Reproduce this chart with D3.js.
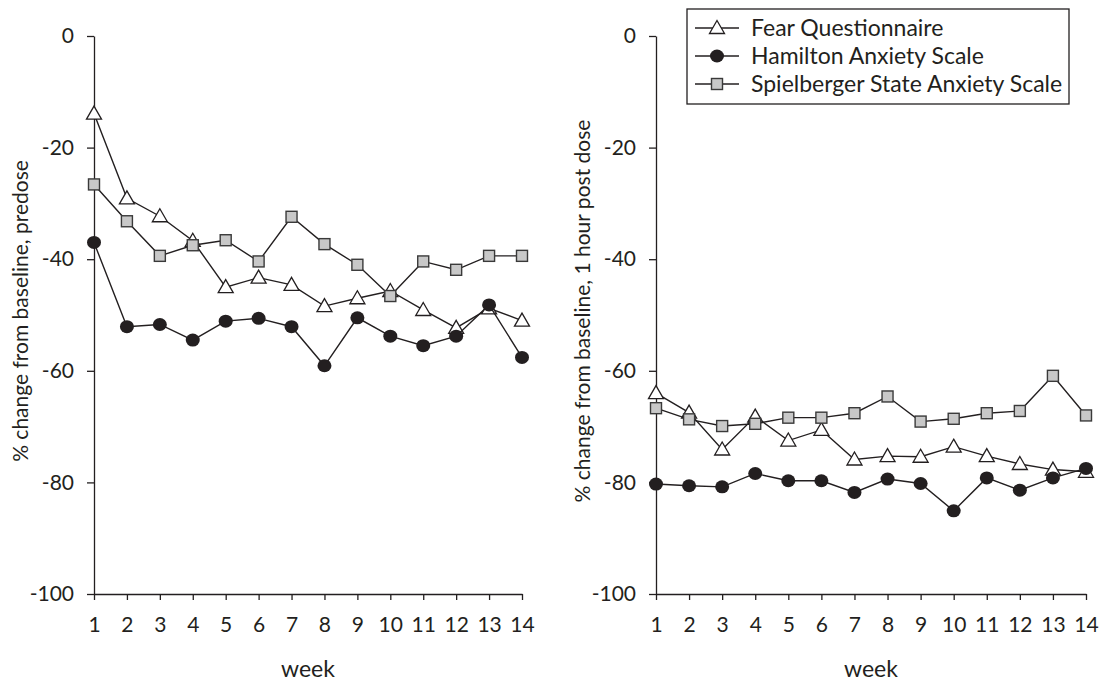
<!DOCTYPE html>
<head>
  <meta charset="utf-8">
  <script src="https://d3js.org/d3.v7.min.js"></script>
  <style>
    body { margin: 0; background: #fff; }
    svg { display: block; font-family: Lato, "Open Sans", sans-serif; }
    .axis path, .axis line { stroke: #231f20; stroke-width: 1.3px; }
    .axis text { font-size: 21px; fill: #231f20; font-family: Lato, "Open Sans", sans-serif; }
    .line { fill: none; stroke: #231f20; stroke-width: 1.4px; }
    .title { font-size: 21px; fill: #231f20; }
    .xtitle { font-size: 23px; fill: #231f20; }
    .legend-text { font-size: 23px; fill: #231f20; }
  </style>
</head>
<body>
  <svg id="chart" width="1112" height="685"></svg>
  <script>
    var weeks = [1, 2, 3, 4, 5, 6, 7, 8, 9, 10, 11, 12, 13, 14];
    var yTicks = [0, -20, -40, -60, -80, -100];

    // predose (left panel)
    var fearPre = [-13.9, -29.1, -32.3, -36.7, -45.0, -43.3, -44.6, -48.4, -47.0, -45.7, -49.1, -52.3, -48.8, -51.0];
    var hamPre = [-37.0, -52.1, -51.7, -54.5, -51.1, -50.6, -52.1, -59.1, -50.5, -53.8, -55.5, -53.8, -48.2, -57.6];
    var spielPre = [-26.6, -33.2, -39.4, -37.5, -36.6, -40.4, -32.4, -37.3, -41.0, -46.6, -40.4, -41.9, -39.4, -39.4];

    // 1 hour post dose (right panel)
    var fearPost = [-64.0, -67.5, -74.1, -68.2, -72.5, -70.6, -75.9, -75.3, -75.4, -73.6, -75.3, -76.7, -77.7, -78.1];
    var hamPost = [-80.3, -80.6, -80.8, -78.4, -79.7, -79.7, -81.8, -79.4, -80.2, -85.1, -79.2, -81.4, -79.2, -77.5];
    var spielPost = [-66.7, -68.7, -69.9, -69.5, -68.4, -68.4, -67.6, -64.6, -69.1, -68.6, -67.6, -67.2, -60.9, -68.0];

    var seriesNames = ["Fear Questionnaire", "Hamilton Anxiety Scale", "Spielberger State Anxiety Scale"];
    var seriesShapes = ["triangle", "circle", "square"];

    var svg = d3.select("#chart");
    var plotTop = 36, plotBottom = 594;

    var panels = [
      { left: 94, right: 522, ylabel: "% change from baseline, predose", tx: 21, series: [fearPre, hamPre, spielPre] },
      { left: 656, right: 1086, ylabel: "% change from baseline, 1 hour post dose", tx: 583, series: [fearPost, hamPost, spielPost] }
    ];

    var y = d3.scaleLinear().domain([-100, 0]).range([plotBottom, plotTop]);

    function drawMarker(g, shape, cx, cy) {
      if (shape === "triangle") {
        g.append("path")
          .attr("d", "M" + cx + "," + (cy - 7.5) + "L" + (cx + 7.5) + "," + (cy + 5.5) + "L" + (cx - 7.5) + "," + (cy + 5.5) + "Z")
          .attr("fill", "#fff").attr("stroke", "#231f20").attr("stroke-width", 1.3);
      } else if (shape === "circle") {
        g.append("ellipse")
          .attr("cx", cx).attr("cy", cy).attr("rx", 7).attr("ry", 6.5)
          .attr("fill", "#231f20");
      } else {
        g.append("rect")
          .attr("x", cx - 5.5).attr("y", cy - 5.5).attr("width", 11).attr("height", 11)
          .attr("fill", "#c8c8c8").attr("stroke", "#3a3a3a").attr("stroke-width", 1.4);
      }
    }

    panels.forEach(function (p) {
      var x = d3.scaleLinear().domain([1, 14]).range([p.left, p.right]);

      svg.append("g")
        .attr("class", "axis")
        .attr("transform", "translate(0," + plotBottom + ")")
        .call(d3.axisBottom(x).tickValues(weeks).tickFormat(d => String(d)).tickSize(6).tickSizeOuter(0).tickPadding(17));

      svg.append("g")
        .attr("class", "axis")
        .attr("transform", "translate(" + p.left + ",0)")
        .call(d3.axisLeft(y).tickValues(yTicks).tickFormat(d => String(d)).tickSize(7).tickSizeOuter(0).tickPadding(13));

      svg.append("text")
        .attr("class", "title")
        .attr("transform", "translate(" + p.tx + ",311) rotate(-90)")
        .attr("text-anchor", "middle")
        .attr("dy", "0.35em")
        .text(p.ylabel);

      svg.append("text")
        .attr("class", "xtitle")
        .attr("x", (p.left + p.right) / 2)
        .attr("y", 677)
        .attr("text-anchor", "middle")
        .text("week");

      var line = d3.line()
        .x(function (d, i) { return x(weeks[i]); })
        .y(function (d) { return y(d); });

      p.series.forEach(function (vals, si) {
        var g = svg.append("g");
        g.append("path").attr("class", "line").attr("d", line(vals));
        vals.forEach(function (v, i) {
          drawMarker(g, seriesShapes[si], x(weeks[i]), y(v));
        });
      });
    });

    // legend
    var legend = svg.append("g").attr("transform", "translate(687,9)");
    legend.append("rect")
      .attr("width", 382).attr("height", 95)
      .attr("fill", "#fff").attr("stroke", "#231f20").attr("stroke-width", 1.3);

    seriesNames.forEach(function (name, i) {
      var ly = 19 + i * 28;
      var row = legend.append("g");
      row.append("line")
        .attr("x1", 8).attr("x2", 52).attr("y1", ly).attr("y2", ly)
        .attr("stroke", "#231f20").attr("stroke-width", 1.4);
      drawMarker(row, seriesShapes[i], 30, ly);
      row.append("text")
        .attr("class", "legend-text")
        .attr("x", 64).attr("y", ly)
        .attr("dy", "0.35em")
        .text(name);
    });
  </script>
</body>
